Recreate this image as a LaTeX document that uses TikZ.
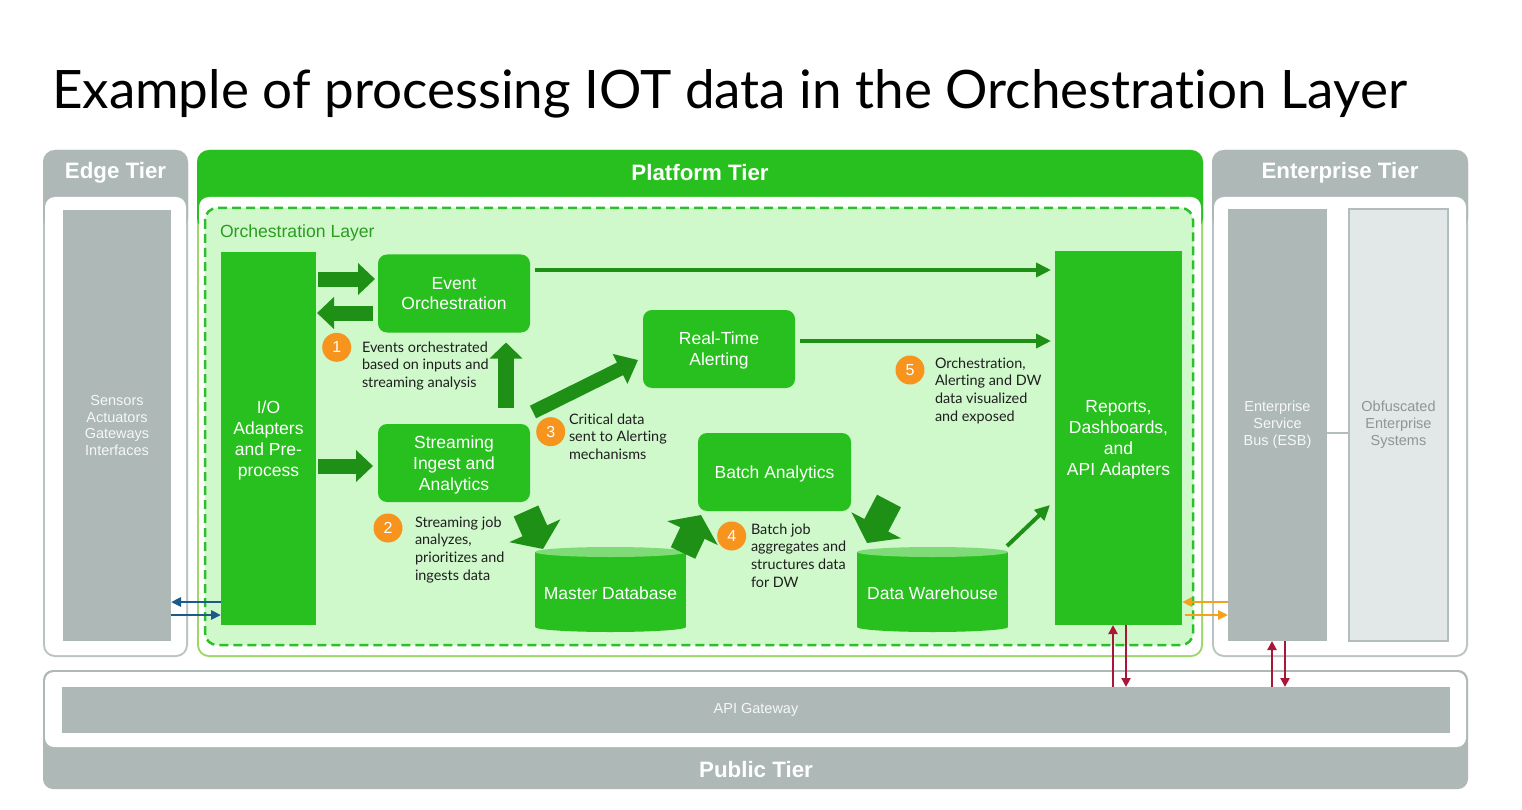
\documentclass[tikz,border=0pt]{standalone}
\usepackage{fontspec}
\setmainfont{Liberation Sans}
\newfontfamily\notefont[Ligatures={NoCommon}]{Lato}
\usetikzlibrary{arrows.meta,calc,positioning}

\definecolor{tiergreen}{HTML}{28C01E}
\definecolor{arrowgreen}{HTML}{1E9016}
\definecolor{layergreen}{HTML}{CFF8CB}
\definecolor{dashgreen}{HTML}{2DBE2D}
\definecolor{rimgreen}{HTML}{9DD66B}
\definecolor{dbtop}{HTML}{7EDB78}
\definecolor{tiergray}{HTML}{ADB8B7}
\definecolor{rimgray}{HTML}{BAC3C3}
\definecolor{palegray}{HTML}{E2E7E7}
\definecolor{edgegray}{HTML}{B4BDBD}
\definecolor{fadedtext}{HTML}{8C9696}
\definecolor{numorange}{HTML}{F7941D}
\definecolor{linkblue}{HTML}{1B5B8C}
\definecolor{linkorange}{HTML}{F7A01C}
\definecolor{linkred}{HTML}{A8173A}
\definecolor{labelgreen}{HTML}{2B9C1F}

\begin{document}
\begin{tikzpicture}[x=1pt,y=-1pt,
    every node/.style={inner sep=0pt,outer sep=0pt},
    tierhead/.style={text=white,font=\fontsize{22.3}{26}\selectfont\bfseries},
    procbox/.style={fill=tiergreen,rounded corners=9pt,text=white,align=center,text depth=0pt,
        minimum width=152pt,minimum height=78pt,font=\fontsize{17.5}{20.7}\selectfont},
    colbox/.style={fill=tiergreen,text=white,align=center,text depth=0pt,font=\fontsize{17.5}{20.8}\selectfont},
    dbnode/.style={text=white,minimum width=151pt,minimum height=92pt,font=\fontsize{17.5}{20}\selectfont},
    graybox/.style={fill=tiergray,text=white!94!gray,align=center,font=\fontsize{14.5}{16.9}\selectfont},
    stepnum/.style={circle,fill=numorange,minimum size=29pt,text=white,font=\fontsize{16}{16}\selectfont},
    note/.style={anchor=north west,align=left,text=black!88,font=\notefont\fontsize{14.4}{17.8}\selectfont},
    fatarrow/.style={draw=arrowgreen,line width=15pt,-{Triangle[length=17pt,width=31pt]}},
    chunkyarrow/.style={draw=arrowgreen,line width=27pt,-{Triangle[length=20pt,width=55pt]}},
    thinarrow/.style={draw=arrowgreen,line width=4pt,-{Triangle[length=15pt,width=14pt]},shorten >=4pt},
    bluearrow/.style={draw=linkblue,line width=2.5pt,-{Triangle[length=10pt,width=9pt]}},
    orangearrow/.style={draw=linkorange,line width=2.5pt,-{Triangle[length=10pt,width=9pt]}},
    redarrow/.style={draw=linkred,line width=2.5pt,-{Triangle[length=9pt,width=9pt]}}
]
\useasboundingbox (0,0) rectangle (1522,810);
\fill[white] (0,0) rectangle (1522,810);

% Macro for tier panel
\newcommand{\tierpanel}[7]{
    % Rim and header
    \fill[#5,rounded corners=12pt] (#2,150) rectangle (#3,#7);
    \fill[#4,rounded corners=12pt] (#2,150) rectangle (#3,230);
    % Body
    \fill[white,rounded corners=10pt] (#2+2,197) rectangle (#3-2,#7-2);
    \node[tierhead] (#1) at ({(#2+#3)/2},173) {#6};
}

% Macro for database cylinder
\newcommand{\database}[3]{
    \fill[tiergreen] (#2-75.5,552) rectangle (#2+75.5,627);
    \fill[tiergreen] (#2,627) ellipse [x radius=75.5pt,y radius=5pt];
    \fill[dbtop] (#2,552) ellipse [x radius=75.5pt,y radius=5pt];
    \node[dbnode] (#1) at (#2,593) {#3};
}

% Title
\node[anchor=base west,font=\notefont\fontsize{53}{60}\selectfont,text=black] (title) at (52,109)
    {Example of processing IOT data in the Orchestration Layer};

% Tiers
\tierpanel{edge}{43}{188}{tiergray}{rimgray}{Edge Tier}{657}
\tierpanel{platform}{197}{1203}{tiergreen}{rimgreen}{Platform Tier}{657}
\tierpanel{enterprise}{1212}{1468}{tiergray}{rimgray}{Enterprise Tier}{657}

% Public tier
\fill[tiergray,rounded corners=10pt] (43,670) rectangle (1468,789);
\fill[white,rounded corners=9pt] (45,672) rectangle (1466,747);
\node[graybox,minimum width=1388pt,minimum height=46pt] (api) at (756,710) {API Gateway};
\node[tierhead] (public) at (756,770) {Public Tier};

% Edge and enterprise columns
\node[graybox,minimum width=108pt,minimum height=431pt] (sens) at (117,425.5)
    {Sensors\\Actuators\\Gateways\\Interfaces};
\node[graybox,minimum width=99pt,minimum height=432pt] (esb) at (1277.5,425)
    {Enterprise\\Service\\Bus (ESB)};
\node[graybox,fill=palegray,draw=edgegray,line width=1.5pt,text=fadedtext,
    minimum width=99pt,minimum height=432pt] (obf) at (1398.5,425)
    {Obfuscated\\Enterprise\\Systems};
\coordinate (esblink) at ($(esb.east)+(0,8)$);
\draw[edgegray,line width=2pt] (esblink) -- (esblink -| obf.west);

% Orchestration layer
\draw[dashgreen,fill=layergreen,line width=2.5pt,dash pattern=on 9pt off 5pt,rounded corners=12pt]
    (205,208) rectangle (1193,645);
\node[anchor=base west,text=labelgreen,font=\fontsize{17.6}{18}\selectfont] (layer) at (220,237)
    {Orchestration Layer};

% Components
\node[colbox,minimum width=95pt,minimum height=373pt] (io) at (268.5,438.5)
    {I/O\\Adapters\\and Pre-\\process};
\node[procbox] (eo) at (454,293.5) {Event\\Orchestration};
\node[procbox] (sia) at (454,463) {Streaming\\Ingest and\\Analytics};
\node[procbox] (rta) at (719,349) {Real-Time\\Alerting};
\node[procbox,minimum width=153pt] (ba) at (774.5,472) {Batch Analytics};
\database{mdb}{610.5}{Master Database}
\database{dw}{932.5}{Data Warehouse}
\node[colbox,minimum width=127pt,minimum height=374pt] (rep) at (1118.5,438)
    {Reports,\\Dashboards,\\and\\API Adapters};

% Fat arrows
\draw[fatarrow] ($(io.east)+(2,-159.5)$) -- ($(eo.west)+(-3,-14.5)$);
\draw[fatarrow] ($(eo.west)+(-5,19.5)$) -- ($(io.east)+(1,-125.5)$);
\draw[fatarrow] ($(io.east)+(2,27.5)$) -- ($(sia.west)+(-5,3)$);
\draw[fatarrow,line width=16pt,-{Triangle[length=16pt,width=32pt]}]
    ($(sia.north)+(52,-16)$) -- ($(eo.south)+(52,10)$);
\draw[fatarrow,line width=14pt,-{Triangle[length=20pt,width=32pt]}]
    ($(sia.north east)+(3,-12)$) -- ($(rta.west)+(-5,11)$);
\draw[chunkyarrow] ($(sia.south east)+(-4,9)$) -- ($(mdb.north west)+(8,2)$);
\draw[chunkyarrow] ($(mdb.north east)+(-3,6)$) -- ($(ba.south west)+(3,4)$);
\draw[chunkyarrow] ($(ba.south east)+(38,-10)$) -- ($(dw.north west)+(10,-4)$);

% Thin arrows to reports
\coordinate (eoout) at ($(eo.east)+(5,-23.5)$);
\draw[thinarrow] (eoout) -- (eoout -| rep.west);
\coordinate (rtaout) at ($(rta.east)+(5,-8)$);
\draw[thinarrow] (rtaout) -- (rtaout -| rep.west);
\draw[thinarrow,shorten >=0pt] ($(dw.north east)+(-1,-1)$) -- ($(rep.west)+(-5,67)$);

% Links across tiers
\coordinate (ioin) at ($(io.west)+(0,163.5)$);
\draw[bluearrow] (ioin) -- (ioin -| sens.east);
\coordinate (ioout) at ($(io.west)+(0,176.5)$);
\draw[bluearrow] (ioout -| sens.east) -- (ioout);
\coordinate (esbin) at ($(esb.west)+(0,177)$);
\draw[orangearrow] (esbin) -- (esbin -| rep.east);
\coordinate (esbout) at ($(esb.west)+(0,190)$);
\draw[orangearrow,shorten <=3pt] (esbout -| rep.east) -- (esbout);
\coordinate (repup) at ($(rep.south)+(-5.5,0)$);
\draw[redarrow] (repup |- api.north) -- (repup);
\coordinate (repdown) at ($(rep.south)+(7.5,0)$);
\draw[redarrow] (repdown) -- (repdown |- api.north);
\coordinate (esbup) at ($(esb.south)+(-5.5,0)$);
\draw[redarrow] (esbup |- api.north) -- (esbup);
\coordinate (esbdown) at ($(esb.south)+(7.5,0)$);
\draw[redarrow] (esbdown) -- (esbdown |- api.north);

% Steps
\node[stepnum] (n1) at (336.7,347.3) {1};
\node[stepnum] (n2) at (388,528) {2};
\node[stepnum] (n3) at (550.7,431.7) {3};
\node[stepnum] (n4) at (731.7,536) {4};
\node[stepnum] (n5) at (910,370) {5};
\node[note] (t1) at (362,341.5) {Events orchestrated\\based on inputs and\\streaming analysis};
\node[note] (t2) at (415,516.5) {Streaming job\\analyzes,\\prioritizes and\\ingests data};
\node[note] (t3) at (569,413.5) {Critical data\\sent to Alerting\\mechanisms};
\node[note] (t4) at (751,523.5) {Batch job\\aggregates and\\structures data\\for DW};
\node[note] (t5) at (935,357.5) {Orchestration,\\Alerting and DW\\data visualized\\and exposed};

\end{tikzpicture}
\end{document}
